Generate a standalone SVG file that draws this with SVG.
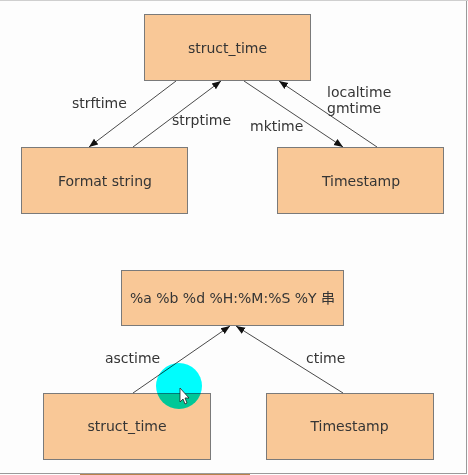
<svg xmlns="http://www.w3.org/2000/svg" width="468" height="475" viewBox="0 0 468 475">
<style>
.box{fill:#F9C897;stroke:#7a7a7a;stroke-width:1}
.t{font-family:"DejaVu Sans",sans-serif;font-size:14px;fill:#353535}
.m{text-anchor:middle}
.c{stroke:#4a4a4a;stroke-width:1;fill:none;marker-end:url(#ah)}
</style>
<defs>
<marker id="ah" viewBox="0 0 10 10" refX="10" refY="5" markerWidth="9" markerHeight="9" markerUnits="userSpaceOnUse" orient="auto">
<path d="M0,1 L10,5 L0,9 z" fill="#111"/>
</marker>
</defs>
<rect x="0" y="0" width="468" height="475" fill="#fdfdfd"/>
<line x1="466.5" y1="0" x2="466.5" y2="474" stroke="#9a9a9a"/>
<line x1="0" y1="473.5" x2="467" y2="473.5" stroke="#9a9a9a"/>
<rect x="0" y="0" width="468" height="1" fill="#cfcfcf"/>
<rect x="80" y="474" width="170" height="1" fill="#b8824a"/>
<g id="n1"><rect class="box" x="144.5" y="14.5" width="166" height="66"/><text class="t m" x="227.5" y="53">struct_time</text></g>
<g id="n2"><rect class="box" x="21.5" y="147.5" width="166" height="66"/><text class="t m" x="105" y="186">Format string</text></g>
<g id="n3"><rect class="box" x="277.5" y="147.5" width="166" height="66"/><text class="t m" x="361" y="186">Timestamp</text></g>
<g id="n4"><rect class="box" x="121.5" y="270.5" width="222" height="55"/><text class="t m" x="232.5" y="303">%a %b %d %H:%M:%S %Y <tspan font-family="'Noto Sans CJK SC',sans-serif">串</tspan></text></g>
<g id="n5"><rect class="box" x="43.5" y="393.5" width="167" height="66"/><text class="t m" x="127" y="431">struct_time</text></g>
<g id="n6"><rect class="box" x="266.5" y="393.5" width="167" height="66"/><text class="t m" x="349.5" y="431">Timestamp</text></g>
<g id="connectors">
<line class="c" x1="176" y1="81" x2="89" y2="147"/>
<line class="c" x1="133" y1="147" x2="221" y2="81"/>
<line class="c" x1="244" y1="81" x2="343" y2="147"/>
<line class="c" x1="377" y1="147" x2="279" y2="81"/>
<line class="c" x1="133" y1="393" x2="230" y2="326"/>
<line class="c" x1="343" y1="393" x2="236" y2="326"/>
<text class="t" x="72" y="108">strftime</text>
<text class="t" x="172" y="125">strptime</text>
<text class="t" x="250" y="131">mktime</text>
<text class="t" x="327" y="97">localtime</text>
<text class="t" x="327" y="113">gmtime</text>
<text class="t" x="105" y="363">asctime</text>
<text class="t" x="306" y="363">ctime</text>
</g>
<circle cx="179" cy="386" r="23" fill="#00ffff" style="mix-blend-mode:multiply"/>
<path d="M180,388 L180,402 L183,399 L185,404 L187,403 L185,398 L189,398 z" fill="#fff" stroke="#222" stroke-width="0.8"/>
</svg>
